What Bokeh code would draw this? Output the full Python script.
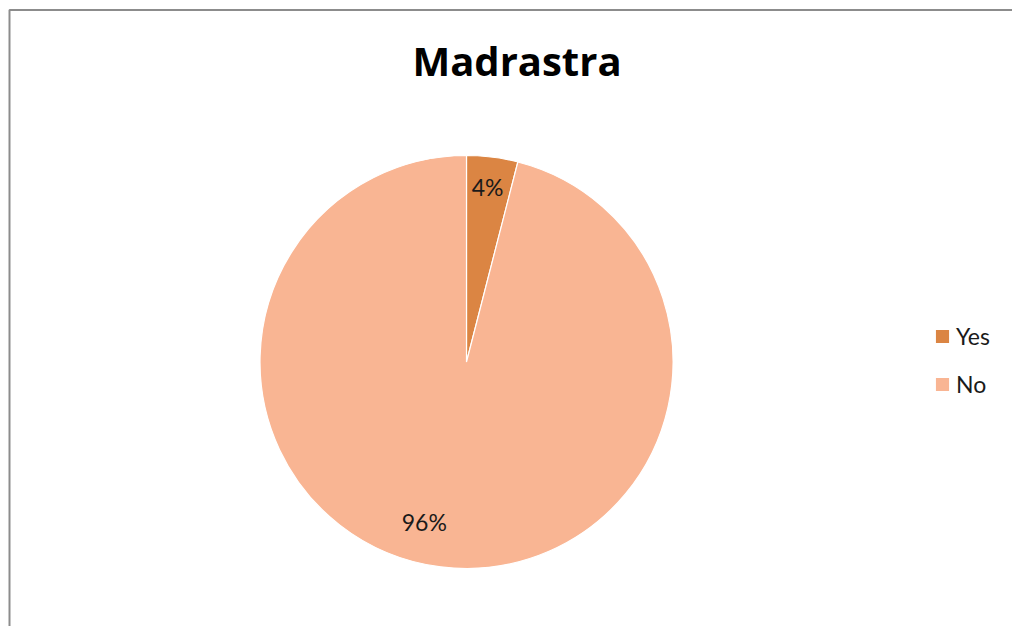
import math
from bokeh.plotting import figure
from bokeh.models import Range1d, Legend, LegendItem, ColumnDataSource
from bokeh.core.properties import value
from bokeh.embed import file_html
from bokeh.resources import INLINE

title = "Madrastra"
categories = ["Yes", "No"]
values = [4, 96]
colors = ["#DB8543", "#F9B593"]

W, H = 1012, 626
p = figure(width=W, height=H, output_backend="svg", toolbar_location=None,
           x_range=Range1d(0, W), y_range=Range1d(0, H),
           x_axis_location=None, y_axis_location=None, min_border=0)
p.outline_line_color = None
p.xgrid.visible = False
p.ygrid.visible = False
p.background_fill_color = "white"
p.border_fill_color = "white"

# chart area border (top and left edges visible)
p.line([9, 9, W + 5], [-5, 616.5, 616.5], line_color="#8C8C8C", line_width=2)

# pie
cx, cy, R = 466.0, 264.5, 206.5
total = sum(values)
fracs = [v / total for v in values]
ends, starts = [], []
acc = 0.0
for f in fracs:
    end = math.pi / 2 - acc * 2 * math.pi
    acc += f
    start = math.pi / 2 - acc * 2 * math.pi
    starts.append(start)
    ends.append(end)

src = ColumnDataSource(dict(cat=categories, start=starts, end=ends, color=colors,
                            x=[cx] * len(values), y=[cy] * len(values)))
r = p.wedge(x="x", y="y", radius=R, start_angle="start", end_angle="end",
            fill_color="color", line_color="white", line_width=1.2, source=src)

# percentage labels
label_r = [0.855, 0.78]
label_dx = [-1, -22]
lx, ly, lt = [], [], []
for i, f in enumerate(fracs):
    mid = (starts[i] + ends[i]) / 2
    lx.append(cx + label_r[i] * R * math.cos(mid) + label_dx[i])
    ly.append(cy + label_r[i] * R * math.sin(mid))
    lt.append(f"{round(f * 100)}%")
p.text(x=lx, y=ly, text=lt, text_font=value("Lato"), text_font_size="23px",
       text_color="#1A1A1A", text_align="center", text_baseline="middle")

# title
p.text(x=[516.5], y=[566], text=[title], text_font=value("Open Sans"), text_font_size="40px",
       text_font_style="bold", text_color="black", text_align="center", text_baseline="middle")

legend = Legend(items=[LegendItem(label=c, renderers=[r], index=i) for i, c in enumerate(categories)],
                location=(933, 228), orientation="vertical",
                glyph_width=18, glyph_height=18, label_standoff=5, label_height=28, spacing=20,
                padding=0, margin=0, border_line_color=None, background_fill_alpha=0,
                label_text_font="Lato", label_text_font_size="23px", label_text_color="#1A1A1A")
p.add_layout(legend, "center")

open("out.html", "w").write(file_html(p, INLINE))
